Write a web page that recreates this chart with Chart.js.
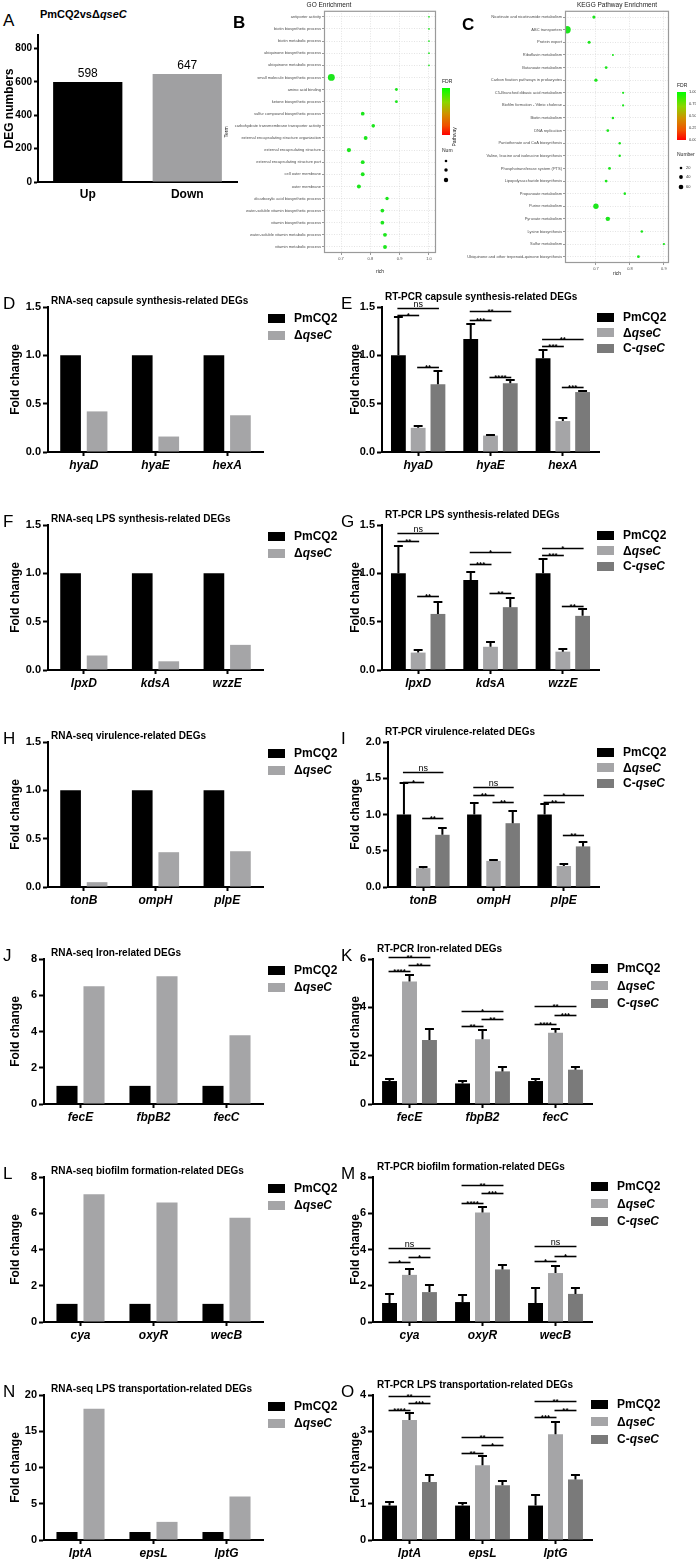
<!DOCTYPE html>
<html lang="en">
<head>
<meta charset="UTF-8">
<title>qseC DEG figure</title>
<script src="https://cdn.jsdelivr.net/npm/chart.js"></script>
<style>
  body { margin: 0; background: #fff; font-family: "Liberation Sans", Arial, sans-serif; }
  #fig { position: relative; width: 696px; height: 1559px; overflow: hidden; background: #fff; }
  #fig canvas { position: absolute; }
  .txt { position: absolute; white-space: nowrap; color: #000; }
  .letter { font-size: 17px; line-height: 18px; }
  .ptitle { font-size: 10px; font-weight: bold; line-height: 12px; }
  .lgtxt { font-size: 12px; font-weight: bold; line-height: 14px; }
  .sw { position: absolute; }
</style>
</head>
<body>
<div id="fig"></div>
<script>
// ---- data ----
const degGroups = ['Up', 'Down'];
const degCounts = [598, 647];
const degTicks = [0, 200, 400, 600, 800];

const goTerms = ['antiporter activity', 'biotin biosynthetic process', 'biotin metabolic process',
  'ubiquinone biosynthetic process', 'ubiquinone metabolic process', 'small molecule biosynthetic process',
  'amino acid binding', 'ketone biosynthetic process', 'sulfur compound biosynthetic process',
  'carbohydrate transmembrane transporter activity', 'external encapsulating structure organization',
  'external encapsulating structure', 'external encapsulating structure part', 'cell outer membrane',
  'outer membrane', 'dicarboxylic acid biosynthetic process', 'water-soluble vitamin biosynthetic process',
  'vitamin biosynthetic process', 'water-soluble vitamin metabolic process', 'vitamin metabolic process'];
const goRich = [1.0, 1.0, 1.0, 1.0, 1.0, 0.667, 0.889, 0.889, 0.774, 0.81, 0.784, 0.727, 0.774, 0.774, 0.761, 0.857, 0.841, 0.841, 0.85, 0.85];
const goNum = [3, 3, 3, 3, 3, 48, 8, 8, 14, 13, 15, 18, 15, 15, 16, 12, 14, 14, 15, 15];
const goRichTicks = [0.7, 0.8, 0.9, 1.0];
const goNumKeys = [7, 12, 19];

const keggPaths = ['Nicotinate and nicotinamide metabolism', 'ABC transporters', 'Protein export',
  'Riboflavin metabolism', 'Butanoate metabolism', 'Carbon fixation pathways in prokaryotes',
  'C5-Branched dibasic acid metabolism', 'Biofilm formation - Vibrio cholerae', 'Biotin metabolism',
  'DNA replication', 'Pantothenate and CoA biosynthesis', 'Valine, leucine and isoleucine biosynthesis',
  'Phosphotransferase system (PTS)', 'Lipopolysaccharide biosynthesis', 'Propanoate metabolism',
  'Purine metabolism', 'Pyruvate metabolism', 'Lysine biosynthesis', 'Sulfur metabolism',
  'Ubiquinone and other terpenoid-quinone biosynthesis'];
const keggRich = [0.694, 0.615, 0.68, 0.75, 0.73, 0.70, 0.78, 0.78, 0.75, 0.735, 0.77, 0.77, 0.74, 0.73, 0.785, 0.70, 0.735, 0.835, 0.90, 0.825];
const keggNum = [28, 150, 26, 12, 22, 30, 14, 14, 18, 22, 16, 16, 22, 22, 18, 80, 55, 18, 14, 22];
const keggRichTicks = [0.7, 0.8, 0.9];
const keggNumKeys = [20, 40, 60];
const fdrTicks = ['1.00', '0.75', '0.50', '0.25', '0.00'];

const seriesNames = ['PmCQ2', 'ΔqseC', 'C-qseC'];
const seriesColors = ['#000000', '#A5A5A7', '#7A7A7A'];

const capGenes = ['hyaD', 'hyaE', 'hexA'];
const capRnaWT = [1, 1, 1];
const capRnaKO = [0.42, 0.16, 0.38];
const capPcrWT = [1.0, 1.17, 0.97], capPcrWTErr = [0.40, 0.15, 0.09];
const capPcrKO = [0.25, 0.17, 0.32], capPcrKOErr = [0.02, 0.01, 0.03];
const capPcrC = [0.70, 0.71, 0.62], capPcrCErr = [0.14, 0.03, 0.01];
const capSig = [[0, 0, 2, 1.49, 'ns'], [0, 0, 1, 1.42, '*'], [0, 1, 2, 0.88, '**'],
  [1, 0, 2, 1.455, '**'], [1, 0, 1, 1.37, '***'], [1, 1, 2, 0.78, '****'],
  [2, 0, 2, 1.17, '**'], [2, 0, 1, 1.10, '***'], [2, 1, 2, 0.675, '***']];

const lpsGenes = ['lpxD', 'kdsA', 'wzzE'];
const lpsRnaWT = [1, 1, 1];
const lpsRnaKO = [0.15, 0.09, 0.26];
const lpsPcrWT = [1.0, 0.93, 1.0], lpsPcrWTErr = [0.28, 0.08, 0.15];
const lpsPcrKO = [0.18, 0.24, 0.19], lpsPcrKOErr = [0.03, 0.05, 0.03];
const lpsPcrC = [0.58, 0.65, 0.56], lpsPcrCErr = [0.12, 0.10, 0.07];
const lpsSig = [[0, 0, 2, 1.42, 'ns'], [0, 0, 1, 1.33, '**'], [0, 1, 2, 0.77, '**'],
  [1, 0, 2, 1.22, '*'], [1, 0, 1, 1.10, '***'], [1, 1, 2, 0.80, '**'],
  [2, 0, 2, 1.26, '*'], [2, 0, 1, 1.19, '***'], [2, 1, 2, 0.66, '**']];

const virGenes = ['tonB', 'ompH', 'plpE'];
const virRnaWT = [1, 1, 1];
const virRnaKO = [0.05, 0.36, 0.37];
const virPcrWT = [1.0, 1.0, 1.0], virPcrWTErr = [0.43, 0.16, 0.14];
const virPcrKO = [0.26, 0.36, 0.29], virPcrKOErr = [0.02, 0.01, 0.03];
const virPcrC = [0.72, 0.88, 0.56], virPcrCErr = [0.10, 0.17, 0.06];
const virSig = [[0, 0, 2, 1.58, 'ns'], [0, 0, 1, 1.45, '*'], [0, 1, 2, 0.95, '**'],
  [1, 0, 2, 1.38, 'ns'], [1, 0, 1, 1.27, '**'], [1, 1, 2, 1.17, '**'],
  [2, 0, 2, 1.27, '*'], [2, 0, 1, 1.17, '**'], [2, 1, 2, 0.72, '**']];

const ironGenes = ['fecE', 'fbpB2', 'fecC'];
const ironRnaWT = [1, 1, 1];
const ironRnaKO = [6.5, 7.05, 3.8];
const ironPcrWT = [0.95, 0.85, 0.95], ironPcrWTErr = [0.08, 0.10, 0.08];
const ironPcrKO = [5.07, 2.68, 2.95], ironPcrKOErr = [0.28, 0.38, 0.14];
const ironPcrC = [2.65, 1.35, 1.42], ironPcrCErr = [0.45, 0.20, 0.12];
const ironSig = [[0, 0, 2, 6.08, '**'], [0, 0, 1, 5.49, '****'], [0, 1, 2, 5.76, '**'],
  [1, 0, 2, 3.86, '*'], [1, 0, 1, 3.22, '**'], [1, 1, 2, 3.53, '**'],
  [2, 0, 2, 4.07, '**'], [2, 0, 1, 3.32, '****'], [2, 1, 2, 3.70, '***']];

const bioGenes = ['cya', 'oxyR', 'wecB'];
const bioRnaWT = [1, 1, 1];
const bioRnaKO = [7.05, 6.6, 5.75];
const bioPcrWT = [1.05, 1.1, 1.05], bioPcrWTErr = [0.5, 0.4, 0.8];
const bioPcrKO = [2.6, 6.04, 2.7], bioPcrKOErr = [0.3, 0.33, 0.4];
const bioPcrC = [1.65, 2.9, 1.55], bioPcrCErr = [0.4, 0.25, 0.3];
const bioSig = [[0, 0, 2, 4.1, 'ns'], [0, 0, 1, 3.3, '*'], [0, 1, 2, 3.6, '*'],
  [1, 0, 2, 7.57, '**'], [1, 0, 1, 6.56, '****'], [1, 1, 2, 7.12, '***'],
  [2, 0, 2, 4.2, 'ns'], [2, 0, 1, 3.35, '*'], [2, 1, 2, 3.65, '*']];

const tranGenes = ['lptA', 'epsL', 'lptG'];
const tranRnaWT = [1.1, 1.1, 1.1];
const tranRnaKO = [18.1, 2.5, 6.0];
const tranPcrWT = [0.95, 0.95, 0.95], tranPcrWTErr = [0.10, 0.08, 0.28];
const tranPcrKO = [3.31, 2.06, 2.92], tranPcrKOErr = [0.18, 0.27, 0.34];
const tranPcrC = [1.60, 1.51, 1.67], tranPcrCErr = [0.18, 0.13, 0.11];
const tranSig = [[0, 0, 2, 3.98, '**'], [0, 0, 1, 3.58, '****'], [0, 1, 2, 3.77, '***'],
  [1, 0, 2, 2.85, '**'], [1, 0, 1, 2.41, '**'], [1, 1, 2, 2.62, '*'],
  [2, 0, 2, 3.84, '**'], [2, 0, 1, 3.38, '***'], [2, 1, 2, 3.58, '**']];

// ---- helpers ----
Chart.defaults.font.family = '"Liberation Sans", Arial, sans-serif';
Chart.defaults.color = '#000';
const FONT = '"Liberation Sans", Arial, sans-serif';
const fig = document.getElementById('fig');

function addCanvas(x, y, w, h) {
  const c = document.createElement('canvas');
  c.width = w; c.height = h;
  c.style.left = x + 'px'; c.style.top = y + 'px';
  c.style.width = w + 'px'; c.style.height = h + 'px';
  fig.appendChild(c);
  return c;
}
function addText(html, x, y, cls, extra) {
  const d = document.createElement('div');
  d.className = 'txt ' + cls;
  d.innerHTML = html;
  d.style.left = x + 'px'; d.style.top = y + 'px';
  if (extra) Object.assign(d.style, extra);
  fig.appendChild(d);
  return d;
}
const fmtName = s => s.replace('qseC', '<i>qseC</i>');

// error bars (upper half only, like the original)
const errPlugin = {
  id: 'errbars',
  afterDatasetsDraw(chart) {
    const ctx = chart.ctx, ys = chart.scales.y;
    chart.data.datasets.forEach((ds, di) => {
      if (!ds.err) return;
      chart.getDatasetMeta(di).data.forEach((bar, i) => {
        const top = Math.round(ys.getPixelForValue(ds.data[i] + ds.err[i]));
        const hw = bar.width * 0.3;
        ctx.save();
        ctx.strokeStyle = '#000';
        ctx.lineWidth = 2;
        ctx.beginPath();
        ctx.moveTo(bar.x, bar.y);
        ctx.lineTo(bar.x, top);
        ctx.moveTo(bar.x - hw, top);
        ctx.lineTo(bar.x + hw, top);
        ctx.stroke();
        ctx.restore();
      });
    });
  }
};

// significance brackets
function sigPlugin(list) {
  return {
    id: 'sigmarks',
    afterDatasetsDraw(chart) {
      const ctx = chart.ctx, ys = chart.scales.y;
      ctx.save();
      list.forEach(([cat, a, b, val, txt]) => {
        const xa = chart.getDatasetMeta(a).data[cat].x;
        const xb = chart.getDatasetMeta(b).data[cat].x;
        const y = Math.round(ys.getPixelForValue(val)) + 0.5;
        ctx.strokeStyle = '#000';
        ctx.lineWidth = 1.6;
        ctx.beginPath();
        ctx.moveTo(xa - 1, y);
        ctx.lineTo(xb + 1, y);
        ctx.stroke();
        ctx.fillStyle = '#000';
        ctx.textAlign = 'center';
        ctx.textBaseline = 'alphabetic';
        if (txt === 'ns') {
          ctx.font = '9px ' + FONT;
          ctx.fillText(txt, (xa + xb) / 2, y - 2);
        } else {
          ctx.font = 'bold 8px ' + FONT;
          ctx.fillText(txt, (xa + xb) / 2, y + 2.5);
        }
      });
      ctx.restore();
    }
  };
}

// value labels for panel A
const valueLabels = {
  id: 'vals',
  afterDatasetsDraw(chart) {
    const ctx = chart.ctx;
    ctx.save();
    ctx.font = '12px ' + FONT;
    ctx.fillStyle = '#000';
    ctx.textAlign = 'center';
    ctx.textBaseline = 'bottom';
    chart.getDatasetMeta(0).data.forEach((b, i) => {
      ctx.fillText(String(chart.data.datasets[0].data[i]), b.x, b.y - 2);
    });
    ctx.restore();
  }
};

// ---- panel A ----
addText('A', 3, 12, 'letter');
addText('PmCQ2vsΔ<i>qseC</i>', 40, 8, 'ptitle', { fontSize: '11px' });
new Chart(addCanvas(0, 0, 240, 205), {
  type: 'bar',
  data: {
    labels: degGroups,
    datasets: [{ data: degCounts, backgroundColor: ['#000000', '#A0A0A2'], categoryPercentage: 0.8, barPercentage: 0.87 }]
  },
  options: {
    responsive: false, animation: false, devicePixelRatio: 1,
    layout: { padding: { top: 35, left: 2, right: 3, bottom: 0 } },
    plugins: { legend: { display: false }, tooltip: { enabled: false } },
    scales: {
      x: {
        grid: { display: true, drawOnChartArea: false, drawTicks: false },
        border: { color: '#000', width: 2 },
        ticks: { font: { size: 12, weight: 'bold' }, padding: 5 },
        afterFit: s => { s.height = 23; }
      },
      y: {
        min: 0, max: 880,
        afterBuildTicks: s => { s.ticks = degTicks.map(v => ({ value: v })); },
        ticks: { font: { size: 10, weight: 'bold' }, padding: 2 },
        grid: { drawOnChartArea: false, tickLength: 4, tickWidth: 2, tickColor: '#000' },
        border: { color: '#000', width: 2 },
        title: { display: true, text: 'DEG numbers', font: { size: 12, weight: 'bold' }, padding: { top: 0, bottom: 0 } },
        afterFit: s => { s.width = 36; }
      }
    }
  },
  plugins: [valueLabels]
});

// ---- panels B and C (enrichment dot plots) ----
const frame = {
  id: 'frame',
  afterDraw(chart) {
    const a = chart.chartArea, ctx = chart.ctx;
    ctx.save();
    ctx.strokeStyle = '#9A9A9A';
    ctx.lineWidth = 1.2;
    ctx.strokeRect(a.left + 0.5, a.top + 0.5, a.right - a.left - 1, a.bottom - a.top - 1);
    ctx.restore();
  }
};

function dotLegend(o) {
  return {
    id: 'dotlegend',
    afterDraw(chart) {
      const ctx = chart.ctx;
      ctx.save();
      ctx.fillStyle = '#222';
      ctx.font = '5px ' + FONT;
      ctx.textBaseline = 'middle';
      ctx.textAlign = 'left';
      ctx.fillText('FDR', o.x, o.fdrY);
      const g = ctx.createLinearGradient(0, o.gTop, 0, o.gTop + o.gH);
      g.addColorStop(0, '#00FF00');
      g.addColorStop(0.3, '#8CD600');
      g.addColorStop(0.55, '#D09000');
      g.addColorStop(0.8, '#F05000');
      g.addColorStop(1, '#FF0000');
      ctx.fillStyle = g;
      ctx.fillRect(o.x, o.gTop, o.gW, o.gH);
      ctx.fillStyle = '#333';
      ctx.font = '4px ' + FONT;
      (o.fdrLabels || []).forEach((t, i) => {
        ctx.fillText(t, o.x + o.gW + 3, o.gTop + i * o.gH / (o.fdrLabels.length - 1));
      });
      ctx.fillStyle = '#222';
      ctx.font = '5px ' + FONT;
      ctx.fillText(o.numTitle, o.x, o.numY);
      o.keys.forEach((n, i) => {
        ctx.fillStyle = '#000';
        ctx.beginPath();
        ctx.arc(o.x + 4, o.dotY[i], o.k * Math.sqrt(n), 0, Math.PI * 2);
        ctx.fill();
        if (o.showKeys) {
          ctx.fillStyle = '#333';
          ctx.font = '4px ' + FONT;
          ctx.fillText(String(n), o.x + 9, o.dotY[i]);
        }
      });
      ctx.restore();
    }
  };
}

function dotPanel(o) {
  const grid = { color: '#D2D2D2', lineWidth: 0.6, tickColor: '#555', tickLength: 2, tickWidth: 0.6 };
  new Chart(addCanvas(o.x, 0, o.w, o.h), {
    type: 'bubble',
    data: {
      datasets: [{
        data: o.rich.map((r, i) => ({ x: r, y: o.terms[i], r: o.k * Math.sqrt(o.num[i]) })),
        backgroundColor: '#1CE61C', borderWidth: 0
      }]
    },
    options: {
      responsive: false, animation: false, devicePixelRatio: 1,
      layout: { padding: { top: 0, left: o.padL, right: o.padR, bottom: 0 } },
      plugins: {
        legend: { display: false }, tooltip: { enabled: false },
        title: { display: true, text: o.title, fullSize: o.fullSize, color: '#222', font: { size: 6.5, weight: 'normal' }, padding: { top: 1, bottom: 2 } }
      },
      scales: {
        x: {
          type: 'linear', min: o.min, max: o.max,
          afterBuildTicks: s => { s.ticks = o.ticks.map(v => ({ value: v })); },
          ticks: { font: { size: 4 }, color: '#4D4D4D', padding: 1 },
          grid: grid, border: { display: false, dash: [1, 1.5] },
          title: { display: true, text: 'rich', font: { size: 5 }, color: '#222', padding: { top: 0, bottom: 0 } },
          afterFit: s => { s.height = o.xH; }
        },
        y: {
          type: 'category', labels: o.terms, offset: true,
          ticks: { font: { size: 4 }, color: '#4D4D4D', padding: 1, autoSkip: false },
          grid: grid, border: { display: false, dash: [1, 1.5] },
          title: { display: true, text: o.yTitle, font: { size: 5 }, color: '#222', padding: { top: 2, bottom: 0 } },
          afterFit: s => { s.width = o.yW; }
        }
      }
    },
    plugins: [frame, o.legend]
  });
}

dotPanel({
  x: 222, w: 238, h: 275, terms: goTerms, rich: goRich, num: goNum, k: 0.5,
  min: 0.642, max: 1.024, ticks: goRichTicks, title: 'GO Enrichment', fullSize: true, yTitle: 'Term',
  padL: 0, yW: 102, padR: 24, xH: 22,
  legend: dotLegend({ x: 220, fdrY: 82, gTop: 88, gW: 8, gH: 47, numTitle: 'Num', numY: 151, dotY: [161, 170, 180], keys: goNumKeys, k: 0.5, showKeys: false })
});
dotPanel({
  x: 440, w: 256, h: 277, terms: keggPaths, rich: keggRich, num: keggNum, k: 0.3,
  min: 0.609, max: 0.915, ticks: keggRichTicks, title: 'KEGG Pathway Enrichment', fullSize: false, yTitle: 'Pathway',
  padL: 10, yW: 115, padR: 27, xH: 14,
  legend: dotLegend({ x: 237, fdrY: 86, gTop: 92, gW: 9, gH: 48, fdrLabels: fdrTicks, numTitle: 'Number', numY: 155, dotY: [168, 177, 187], keys: keggNumKeys, k: 0.3, showKeys: true })
});
addText('B', 233, 14, 'letter', { fontWeight: 'bold' });
addText('C', 462, 16, 'letter', { fontWeight: 'bold' });

// ---- bar panels D-O ----
function barPanel(p) {
  const left = p.col ? 340 : 0, width = p.col ? 356 : 340;
  const cv = addCanvas(left, p.zero - 155, width, 181);
  const n = p.vals.length;
  const datasets = p.vals.map((v, k) => ({
    label: seriesNames[k], data: v, err: p.errs ? p.errs[k] : null,
    backgroundColor: seriesColors[k],
    categoryPercentage: n === 3 ? 0.82 : 0.74,
    barPercentage: n === 3 ? 0.75 : 0.78
  }));
  const plugins = [errPlugin];
  if (p.sig) plugins.push(sigPlugin(p.sig));
  new Chart(cv, {
    type: 'bar',
    data: { labels: p.genes, datasets: datasets },
    options: {
      responsive: false, animation: false, devicePixelRatio: 1,
      layout: { padding: { top: 10, left: 4, right: left + width - p.areaR, bottom: 0 } },
      plugins: { legend: { display: false }, tooltip: { enabled: false } },
      scales: {
        x: {
          grid: { display: true, drawOnChartArea: false, offset: false, tickLength: 4, tickWidth: 2, tickColor: '#000' },
          border: { color: '#000', width: 2 },
          ticks: { font: { size: 12, weight: 'bold', style: 'italic' }, padding: 2 },
          afterFit: s => { s.height = 26; }
        },
        y: {
          min: 0, max: p.max,
          ticks: { stepSize: p.step, font: { size: 11, weight: 'bold' }, padding: 2, callback: v => v.toFixed(p.dec) },
          grid: { drawOnChartArea: false, tickLength: 5, tickWidth: 2, tickColor: '#000' },
          border: { color: '#000', width: 2 },
          title: { display: true, text: 'Fold change', font: { size: 12, weight: 'bold' }, padding: { top: 4, bottom: 2 } },
          afterFit: s => { s.width = p.areaL - left - 4; }
        }
      }
    },
    plugins: plugins
  });

  addText(p.id, p.col ? 341 : 3, p.zero - 157, 'letter');
  addText(p.title, p.tx, p.zero - (p.col ? 155 : 151) - 6, 'ptitle');
  p.vals.forEach((v, k) => {
    const yc = p.zero + p.lgY + k * p.lgStep;
    const sw = document.createElement('div');
    sw.className = 'sw';
    Object.assign(sw.style, { left: p.lgX + 'px', top: (yc - 4.5) + 'px', width: '17px', height: '9px', background: seriesColors[k] });
    fig.appendChild(sw);
    addText(fmtName(seriesNames[k]), p.lgX + 26, yc - 7, 'lgtxt');
  });
}

const leftRna = { col: 0, tx: 51, lgX: 268, lgY: -134, lgStep: 17, areaR: 263 };
const rightA = { col: 1, tx: 385, lgX: 597, lgY: -135, lgStep: 15.5, areaR: 599 };
const rightB = { col: 1, tx: 377, lgX: 591, lgY: -136, lgStep: 17.5, areaR: 592 };

const panels = [
  Object.assign({ id: 'D', zero: 452, genes: capGenes, vals: [capRnaWT, capRnaKO], max: 1.5, step: 0.5, dec: 1, areaL: 48,
    title: 'RNA-seq capsule synthesis-related DEGs' }, leftRna),
  Object.assign({ id: 'E', zero: 452, genes: capGenes, vals: [capPcrWT, capPcrKO, capPcrC], errs: [capPcrWTErr, capPcrKOErr, capPcrCErr],
    sig: capSig, max: 1.5, step: 0.5, dec: 1, areaL: 382, title: 'RT-PCR capsule synthesis-related DEGs' }, rightA),
  Object.assign({ id: 'F', zero: 670, genes: lpsGenes, vals: [lpsRnaWT, lpsRnaKO], max: 1.5, step: 0.5, dec: 1, areaL: 48,
    title: 'RNA-seq LPS synthesis-related DEGs' }, leftRna),
  Object.assign({ id: 'G', zero: 670, genes: lpsGenes, vals: [lpsPcrWT, lpsPcrKO, lpsPcrC], errs: [lpsPcrWTErr, lpsPcrKOErr, lpsPcrCErr],
    sig: lpsSig, max: 1.5, step: 0.5, dec: 1, areaL: 382, title: 'RT-PCR LPS synthesis-related DEGs' }, rightA),
  Object.assign({ id: 'H', zero: 887, genes: virGenes, vals: [virRnaWT, virRnaKO], max: 1.5, step: 0.5, dec: 1, areaL: 48,
    title: 'RNA-seq virulence-related DEGs' }, leftRna),
  Object.assign({ id: 'I', zero: 887, genes: virGenes, vals: [virPcrWT, virPcrKO, virPcrC], errs: [virPcrWTErr, virPcrKOErr, virPcrCErr],
    sig: virSig, max: 2.0, step: 0.5, dec: 1, areaL: 388, title: 'RT-PCR virulence-related DEGs' }, rightA),
  Object.assign({ id: 'J', zero: 1104, genes: ironGenes, vals: [ironRnaWT, ironRnaKO], max: 8, step: 2, dec: 0, areaL: 44,
    title: 'RNA-seq Iron-related DEGs' }, leftRna),
  Object.assign({ id: 'K', zero: 1104, genes: ironGenes, vals: [ironPcrWT, ironPcrKO, ironPcrC], errs: [ironPcrWTErr, ironPcrKOErr, ironPcrCErr],
    sig: ironSig, max: 6, step: 2, dec: 0, areaL: 373, title: 'RT-PCR Iron-related DEGs' }, rightB),
  Object.assign({ id: 'L', zero: 1322, genes: bioGenes, vals: [bioRnaWT, bioRnaKO], max: 8, step: 2, dec: 0, areaL: 44,
    title: 'RNA-seq biofilm formation-related DEGs' }, leftRna),
  Object.assign({ id: 'M', zero: 1322, genes: bioGenes, vals: [bioPcrWT, bioPcrKO, bioPcrC], errs: [bioPcrWTErr, bioPcrKOErr, bioPcrCErr],
    sig: bioSig, max: 8, step: 2, dec: 0, areaL: 373, title: 'RT-PCR biofilm formation-related DEGs' }, rightB),
  Object.assign({ id: 'N', zero: 1540, genes: tranGenes, vals: [tranRnaWT, tranRnaKO], max: 20, step: 5, dec: 0, areaL: 44,
    title: 'RNA-seq LPS transportation-related DEGs' }, leftRna),
  Object.assign({ id: 'O', zero: 1540, genes: tranGenes, vals: [tranPcrWT, tranPcrKO, tranPcrC], errs: [tranPcrWTErr, tranPcrKOErr, tranPcrCErr],
    sig: tranSig, max: 4, step: 1, dec: 0, areaL: 373, title: 'RT-PCR LPS transportation-related DEGs' }, rightB)
];
panels.forEach(barPanel);
</script>
</body>
</html>
